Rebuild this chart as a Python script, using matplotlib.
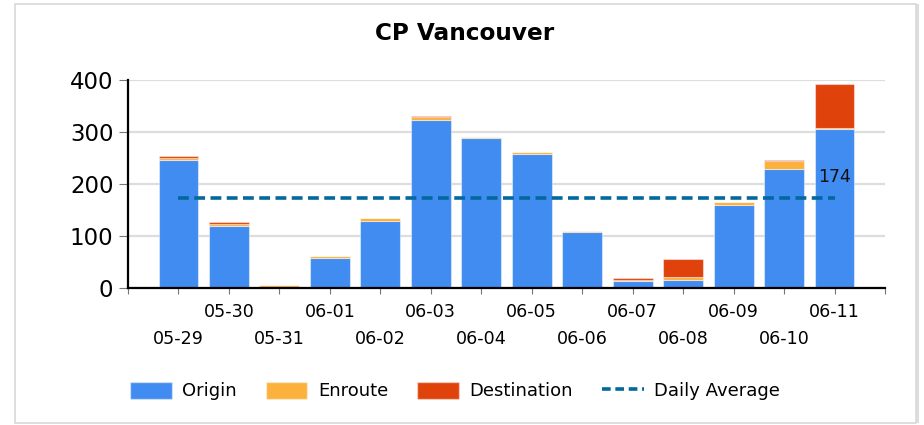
import matplotlib
matplotlib.use("Agg")
import matplotlib.pyplot as plt
from matplotlib.patches import Patch, Rectangle
from matplotlib.lines import Line2D
import numpy as np

dates = ["05-29", "05-30", "05-31", "06-01", "06-02", "06-03", "06-04",
         "06-05", "06-06", "06-07", "06-08", "06-09", "06-10", "06-11"]
origin = [246, 119, 0, 57, 128, 324, 289, 258, 108, 13, 15, 159, 229, 305]
enroute = [4, 5, 6, 4, 6, 4, 2, 3, 2, 3, 7, 6, 16, 3]
destination = [3, 2, 0, 0, 0, 2, 0, 0, 0, 3, 33, 1, 1, 84]
daily_average = 174
title = "CP Vancouver"

c_origin = "#418CF0"
c_enroute = "#FBB13C"
c_dest = "#E0420C"
c_avg = "#04689C"

plt.rcParams['font.family'] = ['DejaVu Sans']

fig = plt.figure(figsize=(9.24, 4.25), dpi=100)
ax = fig.add_axes([128/924, 1-288/425, (885-128)/924, (288-80)/425])

x = np.arange(len(dates))
o = np.array(origin)
e = np.array(enroute)
d = np.array(destination)
w = 0.79
ek = dict(edgecolor=(1, 1, 1, 0.45), linewidth=0.8, zorder=3)
ax.bar(x, o, w, color=c_origin, **ek)
ax.bar(x, e, w, bottom=o, color=c_enroute, **ek)
ax.bar(x, d, w, bottom=o+e, color=c_dest, **ek)

ax.plot([x[0], x[-1]], [daily_average]*2, color=c_avg, lw=2.6,
        linestyle=(0, (3, 1.5)), zorder=4)
ax.annotate(str(daily_average), (x[-1], daily_average), xytext=(0, 8),
            textcoords='offset points', ha='center', va='bottom',
            fontsize=12.5, color='#111111', zorder=5)

ax.set_xlim(-1, len(dates))
ax.set_ylim(0, 400)
ax.set_yticks([0, 100, 200, 300, 400])
ax.grid(axis='y', color='#dddddd', lw=1.6, zorder=0)
ax.set_axisbelow(True)
for s in ['top', 'right']:
    ax.spines[s].set_visible(False)
for s in ['left', 'bottom']:
    ax.spines[s].set_color('black')
    ax.spines[s].set_linewidth(1.6)
    ax.spines[s].set_zorder(6)

ax.tick_params(axis='y', length=6.5, width=0.8, color='#777777', pad=4,
               labelsize=16.5, labelcolor='black')

# staggered x labels
odd = [i for i in x if i % 2 == 1]
even = [i for i in x if i % 2 == 0]
ax.set_xticks(odd)
ax.set_xticklabels([dates[i] for i in odd])
ax.set_xticks(list(even) + [-1, len(dates)], minor=True)
ax.set_xticklabels([dates[i] for i in even] + ['', ''], minor=True)
ax.tick_params(axis='x', which='major', length=4, width=0.8, color='#777777',
               pad=7, labelsize=12.6)
ax.tick_params(axis='x', which='minor', length=4, width=0.8, color='#777777',
               pad=26.5, labelsize=12.6)

fig.text(465/924, 1-33/425, title, ha='center', va='center',
         fontsize=16.7, fontweight='bold')

handles = [Patch(facecolor=c_origin, edgecolor=(1, 1, 1, 0.45)),
           Patch(facecolor=c_enroute, edgecolor=(1, 1, 1, 0.45)),
           Patch(facecolor=c_dest, edgecolor=(1, 1, 1, 0.45)),
           Line2D([0], [0], color=c_avg, lw=2.6, linestyle=(0, (2.4, 1.3)))]
fig.legend(handles, ["Origin", "Enroute", "Destination", "Daily Average"],
           loc='center left', bbox_to_anchor=(130/924, 1-391/425), ncol=4,
           frameon=False, fontsize=13, handlelength=2.3, handleheight=1.1,
           handletextpad=0.6, columnspacing=1.6, borderpad=0, borderaxespad=0)

# figure border
fig.patches.append(Rectangle((15/924, 2/425), (916-15)/924, (421-2)/425,
                             transform=fig.transFigure, fill=False,
                             edgecolor='#d8d8d8', lw=1.2))
fig.patches.append(Rectangle((916/924, 2/425), 3/924, (421-2)/425,
                             transform=fig.transFigure, facecolor='#dcdcdc',
                             edgecolor='none'))

fig.savefig("out.png", dpi=100)
